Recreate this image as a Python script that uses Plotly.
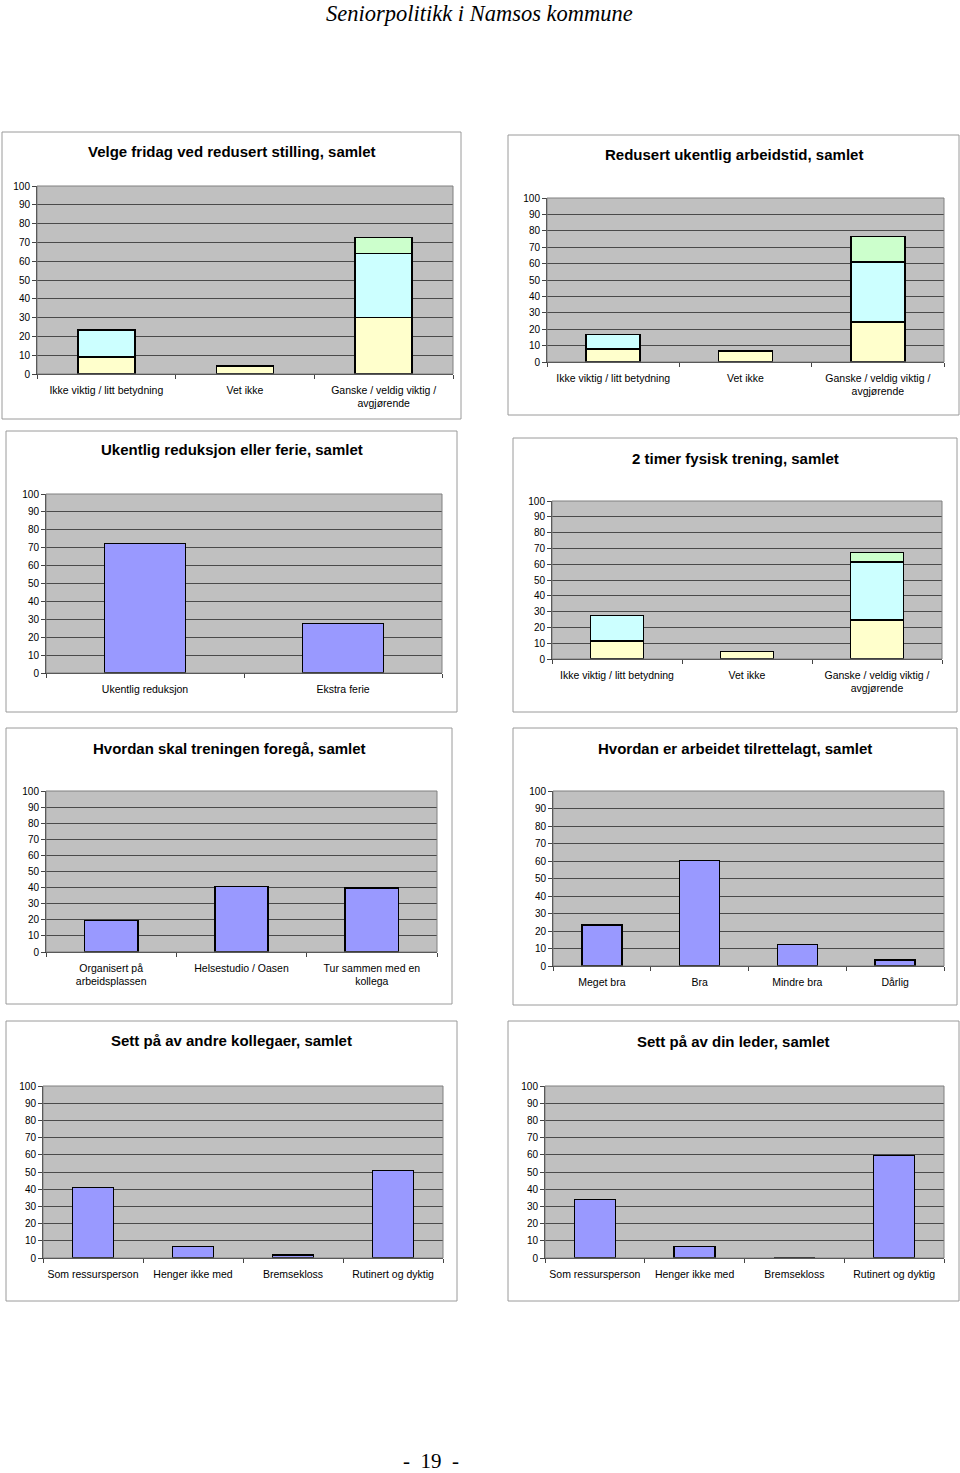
import plotly.graph_objects as go

W, H = 960, 1473

# ---------------- data ----------------
stack_cats = ["Ikke viktig / litt betydning", "Vet ikke", "Ganske / veldig viktig /<br>avgjørende"]

fridag_s1 = [9, 4.3, 30]
fridag_s2 = [14.3, None, 34.2]
fridag_s3 = [None, None, 8.4]

ukentlig_s1 = [8.1, 6.7, 24.4]
ukentlig_s2 = [8.6, None, 36.4]
ukentlig_s3 = [None, None, 15.8]

trening_s1 = [11.3, 4.8, 24.8]
trening_s2 = [16.2, None, 36.5]
trening_s3 = [None, None, 6.1]

reduksjon_cats = ["Ukentlig reduksjon", "Ekstra ferie"]
reduksjon_vals = [72.4, 27.7]

foregaa_cats = ["Organisert på<br>arbeidsplassen", "Helsestudio / Oasen", "Tur sammen med en<br>kollega"]
foregaa_vals = [19.6, 40.6, 39.6]

tilrette_cats = ["Meget bra", "Bra", "Mindre bra", "Dårlig"]
tilrette_vals = [23.6, 60.4, 12.2, 3.4]

sett_cats = ["Som ressursperson", "Henger ikke med", "Bremsekloss", "Rutinert og dyktig"]
kollega_vals = [40.9, 6.6, 1.7, 50.8]
leder_vals = [34.1, 6.8, 0, 59.5]

y_ticks = list(range(0, 101, 10))

# ---------------- styles / layout ----------------
YELLOW, CYAN, GREEN, BLUE = "#FFFFCC", "#CCFFFF", "#CCFFCC", "#9999FF"
FONT = "Liberation Sans, Arial, sans-serif"

charts = [
    dict(title="Velge fridag ved redusert stilling, samlet", cats=stack_cats,
         series=[(fridag_s1, YELLOW), (fridag_s2, CYAN), (fridag_s3, GREEN)],
         plot=(37, 453, 186, 374), box=(2, 461, 132, 419), ty=151),
    dict(title="Redusert ukentlig arbeidstid, samlet", cats=stack_cats,
         series=[(ukentlig_s1, YELLOW), (ukentlig_s2, CYAN), (ukentlig_s3, GREEN)],
         plot=(547, 944, 198, 362), box=(508, 959, 135, 415), ty=155),
    dict(title="Ukentlig reduksjon eller ferie, samlet", cats=reduksjon_cats,
         series=[(reduksjon_vals, BLUE)],
         plot=(46, 442, 494, 673), box=(6, 457, 431, 712), ty=450),
    dict(title="2 timer fysisk trening, samlet", cats=stack_cats,
         series=[(trening_s1, YELLOW), (trening_s2, CYAN), (trening_s3, GREEN)],
         plot=(552, 942, 501, 659), box=(513, 957, 438, 712), ty=458),
    dict(title="Hvordan skal treningen foregå, samlet", cats=foregaa_cats,
         series=[(foregaa_vals, BLUE)],
         plot=(46, 437, 791, 952), box=(6, 452, 728, 1004), ty=748),
    dict(title="Hvordan er arbeidet tilrettelagt, samlet", cats=tilrette_cats,
         series=[(tilrette_vals, BLUE)],
         plot=(553, 944, 791, 966), box=(513, 957, 728, 1005), ty=748),
    dict(title="Sett på av andre kollegaer, samlet", cats=sett_cats,
         series=[(kollega_vals, BLUE)],
         plot=(43, 443, 1086, 1258), box=(6, 457, 1021, 1301), ty=1040),
    dict(title="Sett på av din leder, samlet", cats=sett_cats,
         series=[(leder_vals, BLUE)],
         plot=(545, 944, 1086, 1258), box=(508, 959, 1021, 1301), ty=1041),
]

fig = go.Figure()
shapes, annotations = [], []
layout_axes = {}

def px(x):
    return x / W

def py(y):
    return 1 - y / H

for i, c in enumerate(charts, start=1):
    sfx = "" if i == 1 else str(i)
    xa, ya = "x" + sfx, "y" + sfx
    n = len(c["cats"])
    xs = list(range(n))
    for vals, col in c["series"]:
        fig.add_trace(go.Bar(
            x=xs, y=vals, xaxis=xa, yaxis=ya, marker_color=col,
            marker_line=dict(color="#000000", width=1.6),
            showlegend=False, hoverinfo="y"))
    x0, x1, y0, y1 = c["plot"]
    layout_axes["xaxis" + sfx] = dict(
        domain=[px(x0), px(x1)], anchor=ya, range=[-0.5, n - 0.5],
        tickmode="array", tickvals=xs, ticktext=c["cats"],
        ticks="outside", ticklen=6, tickcolor="rgba(0,0,0,0)",
        minor=dict(tickmode="array", tickvals=[k - 0.5 for k in range(n + 1)],
                   ticks="outside", ticklen=4, tickcolor="#444", tickwidth=1,
                   showgrid=False),
        showgrid=False, zeroline=False, showline=True, linecolor="#333", linewidth=1,
        tickfont=dict(family=FONT, size=10.5, color="#000"), fixedrange=True,
        automargin=False)
    layout_axes["yaxis" + sfx] = dict(
        domain=[py(y1), py(y0)], anchor=xa, range=[0, 100],
        tickmode="array", tickvals=y_ticks,
        ticks="outside", ticklen=4, tickcolor="#444",
        showgrid=True, gridcolor="#4a4a4a", gridwidth=1, zeroline=False,
        showline=True, linecolor="#333", linewidth=1,
        tickfont=dict(family=FONT, size=10, color="#000"), fixedrange=True,
        automargin=False)
    # plot-area border (gray, Excel style)
    shapes.append(dict(type="rect", xref="paper", yref="paper",
                       x0=px(x0), x1=px(x1), y0=py(y1), y1=py(y0),
                       line=dict(color="#808080", width=1), layer="above"))
    # chart-area frame
    bx0, bx1, by0, by1 = c["box"]
    shapes.append(dict(type="rect", xref="paper", yref="paper",
                       x0=px(bx0), x1=px(bx1), y0=py(by1), y1=py(by0),
                       line=dict(color="#9a9a9a", width=1)))
    annotations.append(dict(text="<b>" + c["title"] + "</b>", xref="paper", yref="paper",
                            x=px((bx0 + bx1) / 2), y=py(c["ty"]),
                            xanchor="center", yanchor="middle", showarrow=False,
                            font=dict(family=FONT, size=15, color="#000")))

annotations.append(dict(text="<i>Seniorpolitikk i Namsos kommune</i>", xref="paper", yref="paper",
                        x=px(479), y=1, xanchor="center", yanchor="top", showarrow=False,
                        borderpad=0,
                        font=dict(family="Liberation Serif, Times New Roman, serif", size=22.5, color="#000")))
annotations.append(dict(text="-\u00a0\u00a019\u00a0\u00a0-", xref="paper", yref="paper",
                        x=px(431), y=py(1461), xanchor="center", yanchor="middle", showarrow=False,
                        font=dict(family="Liberation Serif, Times New Roman, serif", size=21, color="#000")))

fig.update_layout(
    width=W, height=H, margin=dict(l=0, r=0, t=0, b=0, pad=0, autoexpand=False),
    paper_bgcolor="#ffffff", plot_bgcolor="#C0C0C0",
    barmode="stack", bargap=0.59,
    shapes=shapes, annotations=annotations, showlegend=False,
    font=dict(family=FONT, color="#000"),
    **layout_axes)

fig.write_html("out.html", config={"displayModeBar": False},
               post_script="document.body.style.margin='0';document.body.style.overflow='hidden';")
